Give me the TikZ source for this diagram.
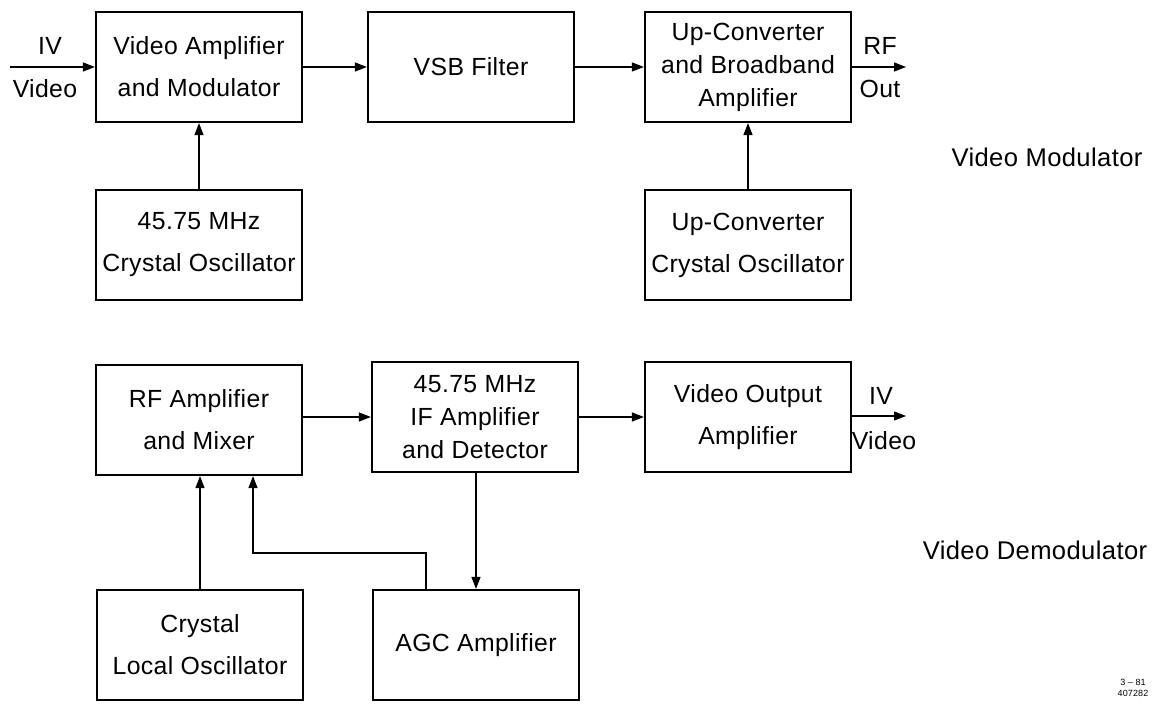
\documentclass[tikz,border=0pt]{standalone}
\usepackage{fontspec}
\setmainfont[LetterSpace=1.5]{Liberation Sans}
\usepackage{tikz}
\usetikzlibrary{positioning,arrows.meta,calc}

\begin{document}
\begin{tikzpicture}[
  x=0.5pt, y=-0.5pt,
  font=\fontsize{12.4}{16.5}\selectfont,
  >={Triangle[length=6pt,width=4.5pt]},
  block/.style={draw, line width=1.1pt, minimum width=103pt, minimum height=55pt, align=center, inner sep=1pt},
  link/.style={->, line width=0.6pt},
  tag/.style={inner sep=1pt}
]
\useasboundingbox (0,0) rectangle (1156,704);
% modulator (top)
\node[block] (vamp)  at (199,67)  {Video Amplifier\\[4.5pt]and Modulator};
\node[block] (vsb)   at (471,67)  {VSB Filter};
\node[block] (upc)   at (748,67)  {Up-Converter\\and Broadband\\Amplifier};
\node[block] (xosc)  at (199,245) {45.75 MHz\\[4.5pt]Crystal Oscillator};
\node[block] (uposc) at (748,245) {Up-Converter\\[4.5pt]Crystal Oscillator};
\coordinate (vin)  at (10,67);
\coordinate (rfout) at (906,67);
\node[tag] (ivin)   at (50,46)  {IV};
\node[tag] (vidin)  at (45,89)  {Video};
\node[tag] (rflbl)  at (880,46) {RF};
\node[tag] (outlbl) at (880,89) {Out};
\node[tag, font=\fontsize{12.8}{16.5}\selectfont] (modlbl) at (1047,157) {Video Modulator};
% demodulator (bottom)
\node[block] (rfmix) at (199,420) {RF Amplifier\\[4.5pt]and Mixer};
\node[block] (ifdet) at (475,417) {45.75 MHz\\IF Amplifier\\and Detector};
\node[block] (vout)  at (748,417) {Video Output\\[4.5pt]Amplifier};
\node[block] (lo)    at (200,645) {Crystal\\[4.5pt]Local Oscillator};
\node[block] (agc)   at (476,645) {AGC Amplifier};
\coordinate (vidout) at (906,416);
\coordinate (agcTap) at (426,553);
\coordinate (mixTap) at (253,553);
\node[tag] (ivout)  at (881,396) {IV};
\node[tag] (vidlbl) at (884,441) {Video};
\node[tag, font=\fontsize{12.8}{16.5}\selectfont] (demlbl) at (1035,550) {Video Demodulator};
\node[tag, font=\fontsize{4.5}{5.5}\selectfont, align=center] (code) at (1133,688) {3 -- 81\\407282};
% arrows
\draw[link] (vin) -- (vamp);
\draw[link] (vamp) -- (vsb);
\draw[link] (vsb) -- (upc);
\draw[link] (upc) -- (rfout);
\draw[link] (xosc) -- (vamp);
\draw[link] (uposc) -- (upc);
\draw[link] (rfmix.east |- ifdet) -- (ifdet);
\draw[link] (ifdet) -- (vout);
\draw[link] (vout.east |- vidout) -- (vidout);
\draw[link] (lo.north) -- (lo.north |- rfmix.south);
\draw[link] (ifdet.south -| agc.north) -- (agc.north);
\draw[link] (agc.north -| agcTap) -- (agcTap) -- (mixTap) -- (mixTap |- rfmix.south);
\end{tikzpicture}
\end{document}
